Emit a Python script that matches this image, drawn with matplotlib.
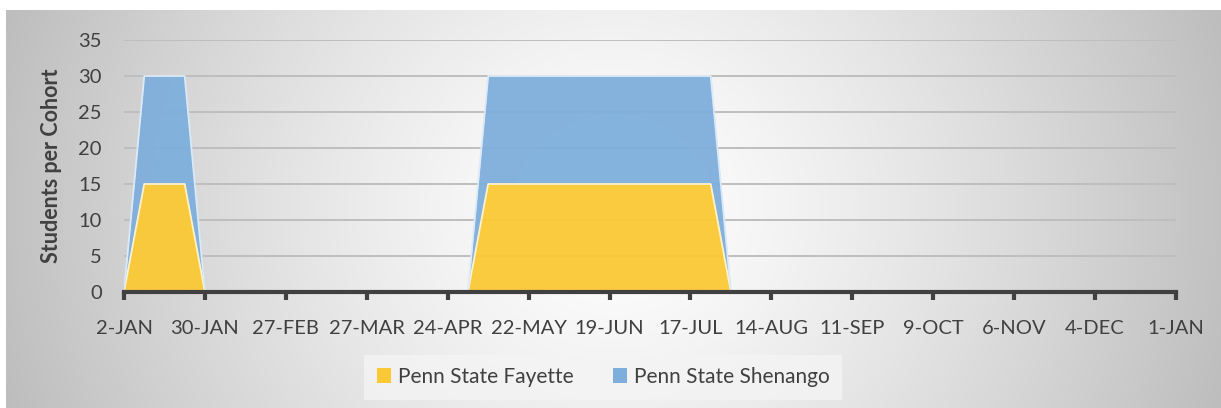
import matplotlib
matplotlib.use("Agg")
import matplotlib.pyplot as plt
from matplotlib.patches import Patch
import numpy as np
import pandas as pd

# data
dates = ["2018-01-02", "2018-01-09", "2018-01-23", "2018-01-30",
         "2018-05-01", "2018-05-08", "2018-07-24", "2018-07-31", "2019-01-01"]
fayette = [0, 15, 15, 0, 0, 15, 15, 0, 0]
shenango = [0, 15, 15, 0, 0, 15, 15, 0, 0]
series_names = ["Penn State Fayette", "Penn State Shenango"]
y_ticks = [0, 5, 10, 15, 20, 25, 30, 35]

yellow = "#FBC935"
blue = "#7EAFDC"

plt.rcParams["font.family"] = ["Lato", "DejaVu Sans"]

x = pd.to_datetime(dates)
total = np.array(fayette) + np.array(shenango)

W, H = 1221, 408
fig = plt.figure(figsize=(W / 100, H / 100), dpi=100)
fig.patch.set_facecolor("white")

# gradient background of the chart area
bg = fig.add_axes([6 / W, 0, 1 - 6 / W, 1 - 10 / H])
gx = np.linspace(-1, 1, 600)
gy = np.linspace(-1, 1, 200)
GX, GY = np.meshgrid(gx, gy)
r = np.sqrt(GX ** 2 + (0.35 * GY) ** 2)
v = 1.0 - 0.24 * np.clip(r, 0, 1.1) ** 1.3
bg.imshow(np.dstack([v, v, v]), aspect="auto", extent=[0, 1, 0, 1], interpolation="bilinear")
bg.axis("off")

ax = fig.add_axes([124 / W, (H - 292) / H, (1176 - 124) / W, (292 - 40) / H])
ax.patch.set_alpha(0)

ax.fill_between(x, 0, fayette, color=yellow, alpha=0.95, lw=0, zorder=3)
ax.fill_between(x, fayette, total, color=blue, alpha=0.95, lw=0, zorder=3)
ax.plot(x, fayette, color="#FFF2C8", lw=1.3, zorder=4)
ax.plot(x, total, color="#DCEAF7", lw=1.3, zorder=4)

ax.set_ylim(0, 35)
ax.set_yticks(y_ticks)
ax.grid(axis="y", color="#BEBEBE", lw=1.4, zorder=1)
ax.set_axisbelow(True)

start = pd.Timestamp("2018-01-02")
end = pd.Timestamp("2019-01-01")
ax.set_xlim(start, end)
ticks = pd.date_range(start, end, freq="28D")
ax.set_xticks(ticks)
ax.set_xticklabels([f"{d.day}-{d.strftime('%b').upper()}" for d in ticks])

for s in ["top", "right", "left"]:
    ax.spines[s].set_visible(False)
ax.spines["bottom"].set_color("#404040")
ax.spines["bottom"].set_linewidth(3)
ax.spines["bottom"].set_zorder(5)
ax.tick_params(axis="x", length=6, width=3, color="#404040", labelsize=14.5,
               labelcolor="#404040", pad=14)
ax.tick_params(axis="y", length=0, labelsize=14.5, labelcolor="#404040", pad=16)

ax.set_ylabel("Students per Cohort", fontsize=15.5, fontweight="bold", color="#404040", labelpad=12)

handles = [Patch(facecolor=yellow, edgecolor="none"), Patch(facecolor=blue, edgecolor="none")]
leg = fig.legend(handles, series_names, loc="center", bbox_to_anchor=(603 / W, (H - 377) / H),
                 ncol=2, frameon=True, fontsize=15, handlelength=0.7, handleheight=0.7,
                 handletextpad=0.3, columnspacing=1.9, borderpad=0.6, labelcolor="#404040")
leg.get_frame().set_facecolor("#F4F4F4")
leg.get_frame().set_edgecolor("none")
leg.get_frame().set_boxstyle("square", pad=0)

fig.savefig("out.png", dpi=100)
